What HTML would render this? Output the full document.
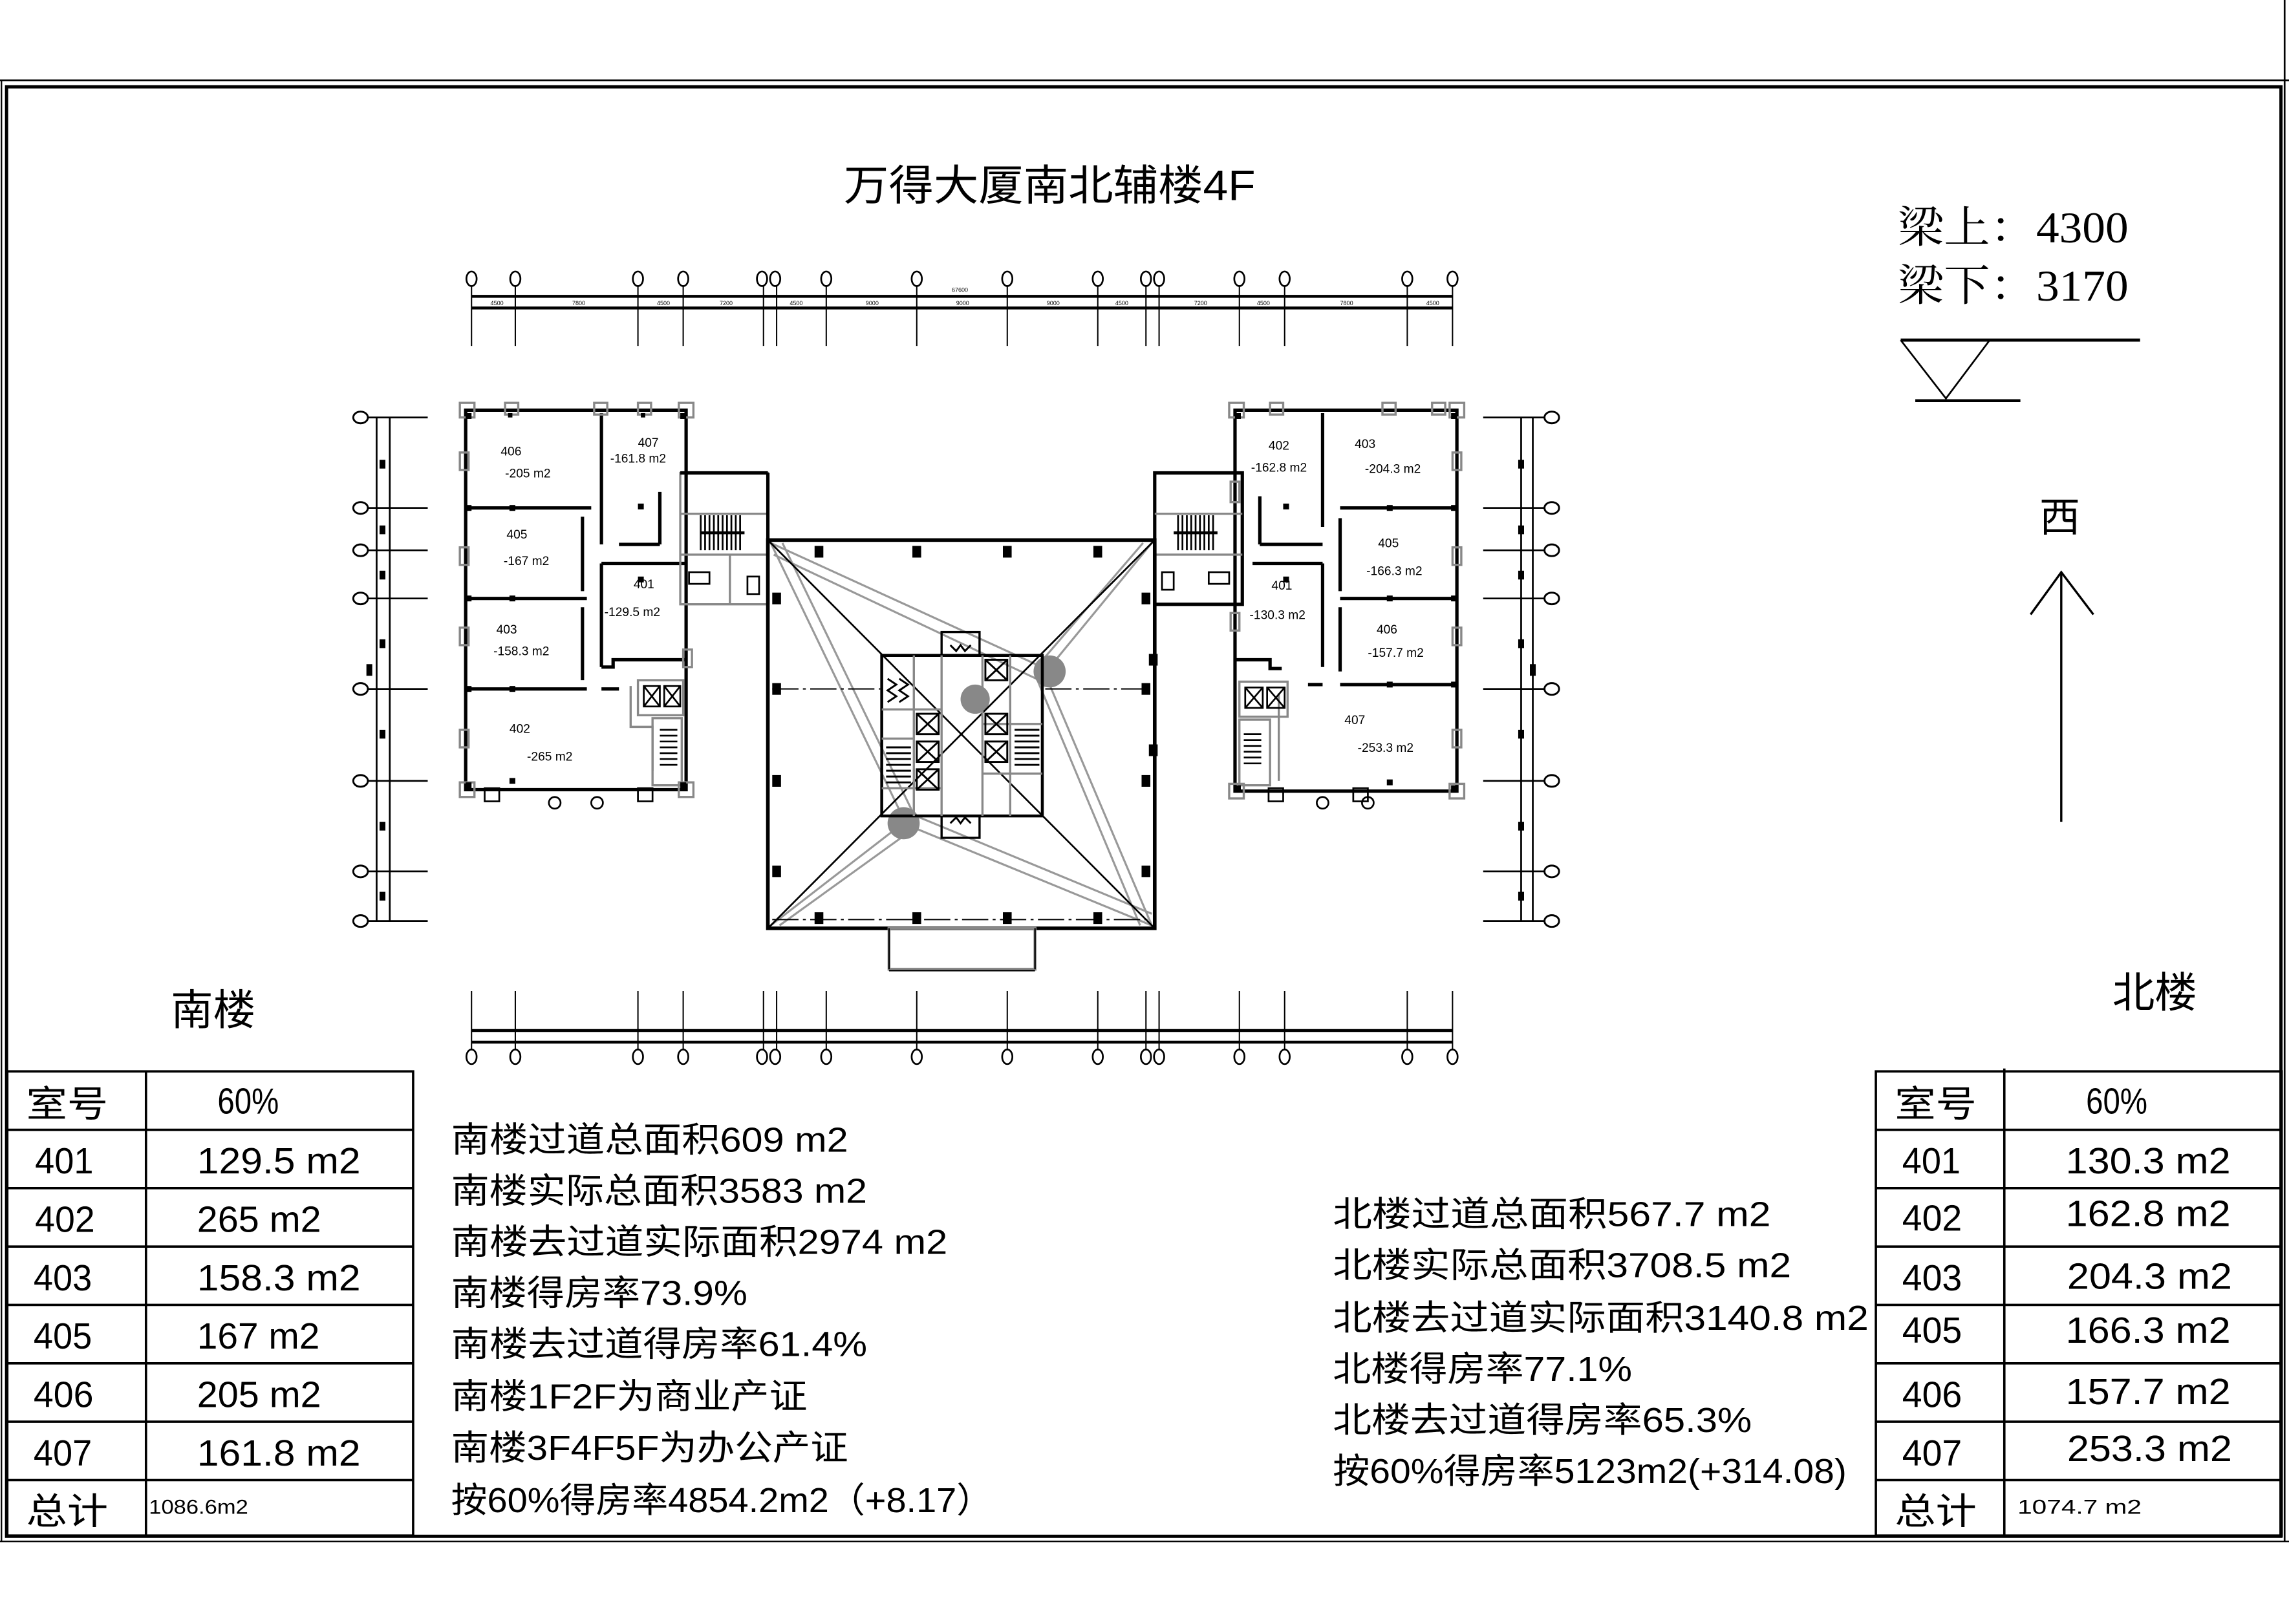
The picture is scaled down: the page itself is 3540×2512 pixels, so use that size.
<!DOCTYPE html>
<html><head><meta charset="utf-8"><style>
html,body{margin:0;padding:0;background:#fff}
svg{display:block}
.t{font-family:"Liberation Sans","Noto Sans CJK SC",sans-serif}
.s{font-family:"Liberation Serif","Noto Serif CJK SC",serif}
</style></head><body>
<svg width="3540" height="2512" viewBox="0 0 1568 1112.6" preserveAspectRatio="none" xmlns="http://www.w3.org/2000/svg">
<rect x="0" y="0" width="1568" height="1112.6" fill="#fff"/>
<!-- frame -->
<g fill="none" stroke="#000">
<line x1="0" y1="55" x2="1568" y2="55" stroke-width="1.2"/>
<line x1="1565" y1="0" x2="1565" y2="1056" stroke-width="1.2"/>
<rect x="4.5" y="59.5" width="1558" height="993" stroke-width="2.2"/>
<line x1="0" y1="1056" x2="1568" y2="1056" stroke-width="1"/>
<line x1="1" y1="55" x2="1" y2="1056" stroke-width="1"/>
</g>
<!-- title -->
<text class="t" x="578" y="137" font-size="29" textLength="282" lengthAdjust="spacingAndGlyphs">万得大厦南北辅楼4F</text>
<text class="s" x="1300" y="166" font-size="30" textLength="158" lengthAdjust="spacingAndGlyphs">梁上：4300</text>
<text class="s" x="1300" y="206" font-size="30" textLength="158" lengthAdjust="spacingAndGlyphs">梁下：3170</text>
<g stroke="#000" fill="none">
<line x1="1302" y1="233" x2="1466" y2="233" stroke-width="2.2"/>
<polyline points="1302,233 1333,273 1363,233" stroke-width="1.2"/>
<line x1="1312" y1="274.5" x2="1384" y2="274.5" stroke-width="2"/>
<line x1="1412" y1="392" x2="1412" y2="563" stroke-width="1.5"/>
<polyline points="1391,421 1412,392 1434,421" stroke-width="1.5"/>
</g>
<text class="t" x="1397" y="364" font-size="28">西</text>
<text class="t" x="117" y="702" font-size="29">南楼</text>
<text class="t" x="1447" y="690" font-size="29">北楼</text>

<!-- top dimensions -->
<g stroke="#000" fill="#fff">
<g stroke-width="0.9">
<line x1="323" y1="196" x2="323" y2="237"/><line x1="353" y1="196" x2="353" y2="237"/><line x1="437" y1="196" x2="437" y2="237"/><line x1="468" y1="196" x2="468" y2="237"/><line x1="523" y1="196" x2="523" y2="237"/><line x1="532" y1="196" x2="532" y2="237"/><line x1="566" y1="196" x2="566" y2="237"/><line x1="628" y1="196" x2="628" y2="237"/><line x1="690" y1="196" x2="690" y2="237"/><line x1="752" y1="196" x2="752" y2="237"/><line x1="785" y1="196" x2="785" y2="237"/><line x1="794" y1="196" x2="794" y2="237"/><line x1="849" y1="196" x2="849" y2="237"/><line x1="880" y1="196" x2="880" y2="237"/><line x1="964" y1="196" x2="964" y2="237"/><line x1="995" y1="196" x2="995" y2="237"/>
</g>
<line x1="323" y1="203" x2="995" y2="203" stroke-width="2"/>
<line x1="323" y1="211" x2="995" y2="211" stroke-width="2"/>
<g stroke-width="1.2">
<ellipse cx="323" cy="191" rx="3.5" ry="5"/><ellipse cx="353" cy="191" rx="3.5" ry="5"/><ellipse cx="437" cy="191" rx="3.5" ry="5"/><ellipse cx="468" cy="191" rx="3.5" ry="5"/><ellipse cx="522" cy="191" rx="3.5" ry="5"/><ellipse cx="531" cy="191" rx="3.5" ry="5"/><ellipse cx="566" cy="191" rx="3.5" ry="5"/><ellipse cx="628" cy="191" rx="3.5" ry="5"/><ellipse cx="690" cy="191" rx="3.5" ry="5"/><ellipse cx="752" cy="191" rx="3.5" ry="5"/><ellipse cx="785" cy="191" rx="3.5" ry="5"/><ellipse cx="794" cy="191" rx="3.5" ry="5"/><ellipse cx="849" cy="191" rx="3.5" ry="5"/><ellipse cx="880" cy="191" rx="3.5" ry="5"/><ellipse cx="964" cy="191" rx="3.5" ry="5"/><ellipse cx="995" cy="191" rx="3.5" ry="5"/>
</g>
</g>
<g fill="#000" font-size="4" class="t">
<text x="336" y="209">4500</text><text x="392" y="209">7800</text><text x="450" y="209">4500</text><text x="493" y="209">7200</text><text x="541" y="209">4500</text><text x="593" y="209">9000</text><text x="655" y="209">9000</text><text x="717" y="209">9000</text><text x="764" y="209">4500</text><text x="818" y="209">7200</text><text x="861" y="209">4500</text><text x="918" y="209">7800</text><text x="977" y="209">4500</text><text x="652" y="200">67600</text>
</g>

<!-- bottom dimensions -->
<g stroke="#000" fill="#fff">
<g stroke-width="0.9">
<line x1="323" y1="679" x2="323" y2="720"/><line x1="353" y1="679" x2="353" y2="720"/><line x1="437" y1="679" x2="437" y2="720"/><line x1="468" y1="679" x2="468" y2="720"/><line x1="523" y1="679" x2="523" y2="720"/><line x1="532" y1="679" x2="532" y2="720"/><line x1="566" y1="679" x2="566" y2="720"/><line x1="628" y1="679" x2="628" y2="720"/><line x1="690" y1="679" x2="690" y2="720"/><line x1="752" y1="679" x2="752" y2="720"/><line x1="785" y1="679" x2="785" y2="720"/><line x1="794" y1="679" x2="794" y2="720"/><line x1="849" y1="679" x2="849" y2="720"/><line x1="880" y1="679" x2="880" y2="720"/><line x1="964" y1="679" x2="964" y2="720"/><line x1="995" y1="679" x2="995" y2="720"/>
</g>
<line x1="323" y1="706" x2="995" y2="706" stroke-width="2"/>
<line x1="323" y1="714" x2="995" y2="714" stroke-width="2"/>
<g stroke-width="1.2">
<ellipse cx="323" cy="724" rx="3.5" ry="5"/><ellipse cx="353" cy="724" rx="3.5" ry="5"/><ellipse cx="437" cy="724" rx="3.5" ry="5"/><ellipse cx="468" cy="724" rx="3.5" ry="5"/><ellipse cx="522" cy="724" rx="3.5" ry="5"/><ellipse cx="531" cy="724" rx="3.5" ry="5"/><ellipse cx="566" cy="724" rx="3.5" ry="5"/><ellipse cx="628" cy="724" rx="3.5" ry="5"/><ellipse cx="690" cy="724" rx="3.5" ry="5"/><ellipse cx="752" cy="724" rx="3.5" ry="5"/><ellipse cx="785" cy="724" rx="3.5" ry="5"/><ellipse cx="794" cy="724" rx="3.5" ry="5"/><ellipse cx="849" cy="724" rx="3.5" ry="5"/><ellipse cx="880" cy="724" rx="3.5" ry="5"/><ellipse cx="964" cy="724" rx="3.5" ry="5"/><ellipse cx="995" cy="724" rx="3.5" ry="5"/>
</g>
</g>

<!-- left grid -->
<g stroke="#000" fill="#fff">
<g stroke-width="1.2">
<line x1="251" y1="286" x2="293" y2="286"/><line x1="251" y1="348" x2="293" y2="348"/><line x1="251" y1="377" x2="293" y2="377"/><line x1="251" y1="410" x2="293" y2="410"/><line x1="251" y1="472" x2="293" y2="472"/><line x1="251" y1="535" x2="293" y2="535"/><line x1="251" y1="597" x2="293" y2="597"/><line x1="251" y1="631" x2="293" y2="631"/>
<line x1="258" y1="286" x2="258" y2="631"/><line x1="267" y1="286" x2="267" y2="631"/>
</g>
<g stroke-width="1.3">
<ellipse cx="247" cy="286" rx="5" ry="4"/><ellipse cx="247" cy="348" rx="5" ry="4"/><ellipse cx="247" cy="377" rx="5" ry="4"/><ellipse cx="247" cy="410" rx="5" ry="4"/><ellipse cx="247" cy="472" rx="5" ry="4"/><ellipse cx="247" cy="535" rx="5" ry="4"/><ellipse cx="247" cy="597" rx="5" ry="4"/><ellipse cx="247" cy="631" rx="5" ry="4"/>
</g>
<g stroke-width="1.2">
<line x1="1016" y1="286" x2="1058" y2="286"/><line x1="1016" y1="348" x2="1058" y2="348"/><line x1="1016" y1="377" x2="1058" y2="377"/><line x1="1016" y1="410" x2="1058" y2="410"/><line x1="1016" y1="472" x2="1058" y2="472"/><line x1="1016" y1="535" x2="1058" y2="535"/><line x1="1016" y1="597" x2="1058" y2="597"/><line x1="1016" y1="631" x2="1058" y2="631"/>
<line x1="1042" y1="286" x2="1042" y2="631"/><line x1="1050" y1="286" x2="1050" y2="631"/>
</g>
<g stroke-width="1.3">
<ellipse cx="1063" cy="286" rx="5" ry="4"/><ellipse cx="1063" cy="348" rx="5" ry="4"/><ellipse cx="1063" cy="377" rx="5" ry="4"/><ellipse cx="1063" cy="410" rx="5" ry="4"/><ellipse cx="1063" cy="472" rx="5" ry="4"/><ellipse cx="1063" cy="535" rx="5" ry="4"/><ellipse cx="1063" cy="597" rx="5" ry="4"/><ellipse cx="1063" cy="631" rx="5" ry="4"/>
</g>
</g>
<g fill="#000">
<rect x="260" y="315" width="4" height="6"/><rect x="260" y="360" width="4" height="6"/><rect x="260" y="391" width="4" height="6"/><rect x="260" y="438" width="4" height="6"/><rect x="260" y="500" width="4" height="6"/><rect x="260" y="563" width="4" height="6"/><rect x="260" y="611" width="4" height="6"/><rect x="251" y="455" width="4" height="8"/>
<rect x="1040" y="315" width="4" height="6"/><rect x="1040" y="360" width="4" height="6"/><rect x="1040" y="391" width="4" height="6"/><rect x="1040" y="438" width="4" height="6"/><rect x="1040" y="500" width="4" height="6"/><rect x="1040" y="563" width="4" height="6"/><rect x="1040" y="611" width="4" height="6"/><rect x="1048" y="455" width="4" height="8"/>
</g>

<!-- SOUTH building -->
<g fill="none" stroke="#000" stroke-width="2.3">
<path d="M319,281 L470,281 L470,541 L319,541 Z"/>
<line x1="412" y1="283" x2="412" y2="373"/>
<line x1="412" y1="386" x2="412" y2="457"/>
<line x1="322" y1="348" x2="405" y2="348"/>
<line x1="322" y1="410" x2="402" y2="410"/>
<line x1="322" y1="472" x2="402" y2="472"/>
<line x1="412" y1="472" x2="424" y2="472"/>
<line x1="399" y1="354" x2="399" y2="405"/>
<line x1="399" y1="416" x2="399" y2="466"/>
<line x1="424" y1="373" x2="452" y2="373"/>
<line x1="452" y1="337" x2="452" y2="373"/>
<line x1="412" y1="386" x2="470" y2="386"/>
<polyline points="412,457 420,457 420,452 470,452"/>
</g>
<g fill="none" stroke="#888" stroke-width="1.5">
<rect x="315" y="276" width="10" height="10"/><rect x="465" y="276" width="10" height="10"/><rect x="315" y="536" width="10" height="10"/><rect x="465" y="536" width="10" height="10"/>
<rect x="346" y="276" width="9" height="8"/><rect x="407" y="276" width="9" height="8"/><rect x="437" y="276" width="9" height="8"/>
<rect x="315" y="310" width="6" height="12"/><rect x="315" y="375" width="6" height="12"/><rect x="315" y="430" width="6" height="12"/><rect x="315" y="500" width="6" height="12"/>
<rect x="468" y="445" width="6" height="12"/>
<polyline points="432,470 432,498 447,498 447,528"/>
<rect x="437" y="466" width="31" height="24"/>
<rect x="447" y="492" width="20" height="46"/>
<rect x="466" y="324" width="60" height="90"/>
<line x1="466" y1="352" x2="526" y2="352"/><line x1="466" y1="380" x2="526" y2="380"/>
<line x1="500" y1="380" x2="500" y2="414"/>
</g>
<g fill="none" stroke="#000" stroke-width="1.2">
<rect x="332" y="540" width="10" height="9"/><rect x="437" y="540" width="10" height="9"/>
<circle cx="380" cy="550" r="4"/><circle cx="409" cy="550" r="4"/>
<rect x="441" y="470" width="11" height="14"/><line x1="441" y1="470" x2="452" y2="484"/><line x1="452" y1="470" x2="441" y2="484"/>
<rect x="455" y="470" width="11" height="14"/><line x1="455" y1="470" x2="466" y2="484"/><line x1="466" y1="470" x2="455" y2="484"/>
<path d="M452,500 h12 M452,504 h12 M452,508 h12 M452,512 h12 M452,516 h12 M452,520 h12 M452,524 h12"/>
<path d="M480,353 v24 M483,353 v24 M486,353 v24 M489,353 v24 M492,353 v24 M495,353 v24 M498,353 v24 M501,353 v24 M504,353 v24 M507,353 v24"/>
<line x1="480" y1="365" x2="510" y2="365" stroke-width="2"/>
<rect x="512" y="395" width="8" height="12"/><rect x="472" y="392" width="14" height="8"/>
<path d="M526,324 v90" stroke-width="2.3"/>
<path d="M466,324 h60" stroke-width="2.3"/>
</g>
<g fill="#000">
<rect x="319" y="283" width="4" height="4"/><rect x="466" y="283" width="4" height="4"/><rect x="319" y="536" width="4" height="4"/><rect x="466" y="536" width="4" height="4"/>
<rect x="348" y="283" width="3" height="3"/><rect x="439" y="283" width="3" height="3"/><rect x="349" y="346" width="4" height="4"/><rect x="349" y="408" width="4" height="4"/><rect x="349" y="470" width="4" height="4"/><rect x="349" y="533" width="4" height="4"/><rect x="437" y="345" width="4" height="4"/><rect x="437" y="395" width="4" height="4"/>
<rect x="319" y="346" width="4" height="4"/><rect x="319" y="408" width="4" height="4"/><rect x="319" y="470" width="4" height="4"/>
</g>
<g class="t" font-size="8.5" fill="#000">
<text x="343" y="312">406</text><text x="346" y="327">-205 m2</text>
<text x="437" y="306">407</text><text x="418" y="317">-161.8 m2</text>
<text x="347" y="369">405</text><text x="345" y="387">-167 m2</text>
<text x="434" y="403">401</text><text x="414" y="422">-129.5 m2</text>
<text x="340" y="434">403</text><text x="338" y="449">-158.3 m2</text>
<text x="349" y="502">402</text><text x="361" y="521">-265 m2</text>
</g>

<!-- NORTH building -->
<g fill="none" stroke="#000" stroke-width="2.3">
<path d="M846,281 L998,281 L998,542 L846,542 Z"/>
<line x1="906" y1="283" x2="906" y2="361"/>
<line x1="906" y1="386" x2="906" y2="457"/>
<line x1="918" y1="355" x2="918" y2="405"/>
<line x1="918" y1="416" x2="918" y2="460"/>
<line x1="918" y1="348" x2="996" y2="348"/>
<line x1="918" y1="410" x2="996" y2="410"/>
<line x1="918" y1="469" x2="996" y2="469"/>
<line x1="896" y1="469" x2="906" y2="469"/>
<line x1="863" y1="373" x2="906" y2="373"/>
<line x1="863" y1="340" x2="863" y2="373"/>
<line x1="858" y1="386" x2="906" y2="386"/>
<polyline points="846,452 870,452 870,458 878,458"/>
<path d="M791,324 h60 v90 h-60 z"/>
</g>
<g fill="none" stroke="#888" stroke-width="1.5">
<rect x="842" y="276" width="10" height="10"/><rect x="993" y="276" width="10" height="10"/><rect x="842" y="537" width="10" height="10"/><rect x="993" y="537" width="10" height="10"/>
<rect x="870" y="276" width="9" height="8"/><rect x="947" y="276" width="9" height="8"/><rect x="981" y="276" width="9" height="8"/>
<rect x="995" y="310" width="6" height="12"/><rect x="995" y="375" width="6" height="12"/><rect x="995" y="430" width="6" height="12"/><rect x="995" y="500" width="6" height="12"/>
<rect x="843" y="330" width="6" height="14"/><rect x="843" y="420" width="6" height="12"/>
<rect x="849" y="467" width="33" height="24"/>
<rect x="849" y="493" width="21" height="45"/>
<line x1="791" y1="352" x2="851" y2="352"/><line x1="791" y1="380" x2="851" y2="380"/>
<line x1="876" y1="475" x2="876" y2="535"/>
</g>
<g fill="none" stroke="#000" stroke-width="1.2">
<rect x="869" y="540" width="10" height="9"/><rect x="927" y="540" width="10" height="9"/>
<circle cx="906" cy="550" r="4"/><circle cx="937" cy="550" r="4"/>
<rect x="853" y="471" width="12" height="14"/><line x1="853" y1="471" x2="865" y2="485"/><line x1="865" y1="471" x2="853" y2="485"/>
<rect x="868" y="471" width="12" height="14"/><line x1="868" y1="471" x2="880" y2="485"/><line x1="880" y1="471" x2="868" y2="485"/>
<path d="M852,503 h12 M852,507 h12 M852,511 h12 M852,515 h12 M852,519 h12 M852,523 h12"/>
<path d="M807,353 v24 M810,353 v24 M813,353 v24 M816,353 v24 M819,353 v24 M822,353 v24 M825,353 v24 M828,353 v24 M831,353 v24"/>
<line x1="804" y1="365" x2="834" y2="365" stroke-width="2"/>
<rect x="796" y="392" width="8" height="12"/><rect x="828" y="392" width="14" height="8"/>
</g>
<g fill="#000">
<rect x="846" y="283" width="4" height="4"/><rect x="994" y="283" width="4" height="4"/><rect x="846" y="538" width="4" height="4"/><rect x="994" y="538" width="4" height="4"/>
<rect x="879" y="345" width="4" height="4"/><rect x="879" y="395" width="4" height="4"/><rect x="950" y="346" width="4" height="4"/><rect x="950" y="408" width="4" height="4"/><rect x="950" y="467" width="4" height="4"/><rect x="950" y="534" width="4" height="4"/><rect x="994" y="346" width="4" height="4"/><rect x="994" y="408" width="4" height="4"/><rect x="994" y="467" width="4" height="4"/>
<rect x="787" y="448" width="6" height="8"/><rect x="787" y="510" width="6" height="8"/>
</g>
<g class="t" font-size="8.5" fill="#000">
<text x="869" y="308">402</text><text x="857" y="323">-162.8 m2</text>
<text x="928" y="307">403</text><text x="935" y="324">-204.3 m2</text>
<text x="944" y="375">405</text><text x="936" y="394">-166.3 m2</text>
<text x="871" y="404">401</text><text x="856" y="424">-130.3 m2</text>
<text x="943" y="434">406</text><text x="937" y="450">-157.7 m2</text>
<text x="921" y="496">407</text><text x="930" y="515">-253.3 m2</text>
</g>

<!-- CENTRAL building -->
<g fill="none" stroke="#999" stroke-width="1.4">
<path d="M528,372 L716,458 M530,380 L712,466"/>
<path d="M528,372 L619,561 M536,372 L626,558"/>
<path d="M789,634 L716,462 M781,634 L709,462"/>
<path d="M789,634 L621,565 M789,626 L625,558"/>
<path d="M789,372 L720,456 M783,372 L716,450"/>
<path d="M528,634 L616,566 M534,634 L620,572"/>
</g>
<g fill="#888">
<circle cx="719" cy="460" r="11"/><circle cx="668" cy="479" r="10"/><circle cx="619" cy="564" r="11"/>
</g>
<g fill="none" stroke="#000">
<rect x="526" y="370" width="265" height="266" stroke-width="2.5"/>
<line x1="526" y1="370" x2="791" y2="636" stroke-width="1.2"/>
<line x1="791" y1="370" x2="526" y2="636" stroke-width="1.2"/>
<line x1="529" y1="472" x2="603" y2="472" stroke-width="0.9" stroke-dasharray="18,3,2,3"/>
<line x1="716" y1="472" x2="788" y2="472" stroke-width="0.9" stroke-dasharray="18,3,2,3"/>
<line x1="529" y1="630" x2="788" y2="630" stroke-width="0.9" stroke-dasharray="18,3,2,3"/>
<rect x="604" y="449" width="110" height="110" stroke-width="2"/>
<rect x="645" y="433" width="26" height="16" stroke-width="1.5"/>
<rect x="645" y="559" width="26" height="15" stroke-width="1.5"/>
<rect x="609" y="636" width="100" height="28" stroke="#888" stroke-width="2"/>
<line x1="609" y1="636" x2="609" y2="664" stroke-width="1"/><line x1="709" y1="636" x2="709" y2="664" stroke-width="1"/>
<line x1="609" y1="665" x2="709" y2="665" stroke-width="1"/>
</g>
<g fill="none" stroke="#888" stroke-width="1.5">
<line x1="626" y1="449" x2="626" y2="559"/><line x1="645" y1="449" x2="645" y2="559"/><line x1="673" y1="449" x2="673" y2="559"/><line x1="692" y1="449" x2="692" y2="559"/>
<line x1="604" y1="486" x2="645" y2="486"/><line x1="604" y1="506" x2="626" y2="506"/><line x1="604" y1="540" x2="645" y2="540"/>
<line x1="673" y1="496" x2="714" y2="496"/><line x1="673" y1="530" x2="714" y2="530"/>
</g>
<g fill="none" stroke="#000" stroke-width="1.3">
<rect x="628" y="489" width="15" height="14"/><line x1="628" y1="489" x2="643" y2="503"/><line x1="643" y1="489" x2="628" y2="503"/>
<rect x="628" y="508" width="15" height="14"/><line x1="628" y1="508" x2="643" y2="522"/><line x1="643" y1="508" x2="628" y2="522"/>
<rect x="628" y="527" width="15" height="14"/><line x1="628" y1="527" x2="643" y2="541"/><line x1="643" y1="527" x2="628" y2="541"/>
<rect x="675" y="489" width="15" height="14"/><line x1="675" y1="489" x2="690" y2="503"/><line x1="690" y1="489" x2="675" y2="503"/>
<rect x="675" y="508" width="15" height="14"/><line x1="675" y1="508" x2="690" y2="522"/><line x1="690" y1="508" x2="675" y2="522"/>
<rect x="675" y="452" width="15" height="14"/><line x1="675" y1="452" x2="690" y2="466"/><line x1="690" y1="452" x2="675" y2="466"/>
<path d="M607,512 h17 M607,516 h17 M607,520 h17 M607,524 h17 M607,528 h17 M607,532 h17 M607,536 h17"/>
<path d="M695,500 h17 M695,504 h17 M695,508 h17 M695,512 h17 M695,516 h17 M695,520 h17 M695,524 h17"/>
<path d="M608,465 l6,4 l-6,4 l6,4 l-6,4 M616,465 l6,4 l-6,4 l6,4 l-6,4"/>
<path d="M651,442 l4,4 l3,-4 l3,4 l4,-4 M651,564 l4,-4 l3,4 l3,-4 l4,4"/>
</g>
<g fill="#000">
<rect x="558" y="374" width="6" height="8"/><rect x="625" y="374" width="6" height="8"/><rect x="687" y="374" width="6" height="8"/><rect x="749" y="374" width="6" height="8"/>
<rect x="558" y="625" width="6" height="8"/><rect x="625" y="625" width="6" height="8"/><rect x="687" y="625" width="6" height="8"/><rect x="749" y="625" width="6" height="8"/>
<rect x="529" y="406" width="6" height="8"/><rect x="529" y="468" width="6" height="8"/><rect x="529" y="531" width="6" height="8"/><rect x="529" y="593" width="6" height="8"/>
<rect x="782" y="406" width="6" height="8"/><rect x="782" y="468" width="6" height="8"/><rect x="782" y="531" width="6" height="8"/><rect x="782" y="593" width="6" height="8"/>
</g>

<!-- LEFT TABLE -->
<g fill="none" stroke="#000" stroke-width="1.6">
<rect x="5" y="734" width="278" height="318"/>
<line x1="100" y1="734" x2="100" y2="1052"/>
<line x1="5" y1="774" x2="283" y2="774"/><line x1="5" y1="814" x2="283" y2="814"/><line x1="5" y1="854" x2="283" y2="854"/><line x1="5" y1="894" x2="283" y2="894"/><line x1="5" y1="934" x2="283" y2="934"/><line x1="5" y1="974" x2="283" y2="974"/><line x1="5" y1="1014" x2="283" y2="1014"/>
</g>
<g class="t" fill="#000" font-size="25">
<text x="18" y="765" textLength="56" lengthAdjust="spacingAndGlyphs">室号</text>
<text x="149" y="763" textLength="42" lengthAdjust="spacingAndGlyphs">60%</text>
<text x="24" y="804" textLength="40" lengthAdjust="spacingAndGlyphs">401</text>
<text x="135" y="804" textLength="112" lengthAdjust="spacingAndGlyphs">129.5 m2</text>
<text x="24" y="844" textLength="41" lengthAdjust="spacingAndGlyphs">402</text>
<text x="135" y="844" textLength="85" lengthAdjust="spacingAndGlyphs">265 m2</text>
<text x="23" y="884" textLength="40" lengthAdjust="spacingAndGlyphs">403</text>
<text x="135" y="884" textLength="112" lengthAdjust="spacingAndGlyphs">158.3 m2</text>
<text x="23" y="924" textLength="40" lengthAdjust="spacingAndGlyphs">405</text>
<text x="135" y="924" textLength="84" lengthAdjust="spacingAndGlyphs">167 m2</text>
<text x="23" y="964" textLength="41" lengthAdjust="spacingAndGlyphs">406</text>
<text x="135" y="964" textLength="85" lengthAdjust="spacingAndGlyphs">205 m2</text>
<text x="23" y="1004" textLength="40" lengthAdjust="spacingAndGlyphs">407</text>
<text x="135" y="1004" textLength="112" lengthAdjust="spacingAndGlyphs">161.8 m2</text>
<text x="18" y="1044" textLength="56" lengthAdjust="spacingAndGlyphs">总计</text>
<text x="102" y="1037" font-size="14" textLength="68" lengthAdjust="spacingAndGlyphs">1086.6m2</text>
</g>

<!-- RIGHT TABLE -->
<g fill="none" stroke="#000" stroke-width="1.6">
<rect x="1285" y="734" width="278" height="318"/>
<line x1="1373" y1="732" x2="1373" y2="1052"/>
<line x1="1285" y1="774" x2="1563" y2="774"/><line x1="1285" y1="814" x2="1563" y2="814"/><line x1="1285" y1="854" x2="1563" y2="854"/><line x1="1285" y1="894" x2="1563" y2="894"/><line x1="1285" y1="934" x2="1563" y2="934"/><line x1="1285" y1="974" x2="1563" y2="974"/><line x1="1285" y1="1014" x2="1563" y2="1014"/>
</g>
<g class="t" fill="#000" font-size="25">
<text x="1298" y="765" textLength="56" lengthAdjust="spacingAndGlyphs">室号</text>
<text x="1429" y="763" textLength="42" lengthAdjust="spacingAndGlyphs">60%</text>
<text x="1303" y="804" textLength="40" lengthAdjust="spacingAndGlyphs">401</text>
<text x="1415" y="804" textLength="113" lengthAdjust="spacingAndGlyphs">130.3 m2</text>
<text x="1303" y="843" textLength="41" lengthAdjust="spacingAndGlyphs">402</text>
<text x="1415" y="840" textLength="113" lengthAdjust="spacingAndGlyphs">162.8 m2</text>
<text x="1303" y="884" textLength="41" lengthAdjust="spacingAndGlyphs">403</text>
<text x="1416" y="883" textLength="113" lengthAdjust="spacingAndGlyphs">204.3 m2</text>
<text x="1303" y="920" textLength="41" lengthAdjust="spacingAndGlyphs">405</text>
<text x="1415" y="920" textLength="113" lengthAdjust="spacingAndGlyphs">166.3 m2</text>
<text x="1303" y="964" textLength="41" lengthAdjust="spacingAndGlyphs">406</text>
<text x="1415" y="962" textLength="113" lengthAdjust="spacingAndGlyphs">157.7 m2</text>
<text x="1303" y="1004" textLength="41" lengthAdjust="spacingAndGlyphs">407</text>
<text x="1416" y="1001" textLength="113" lengthAdjust="spacingAndGlyphs">253.3 m2</text>
<text x="1298" y="1044" textLength="56" lengthAdjust="spacingAndGlyphs">总计</text>
<text x="1382" y="1037" font-size="14" textLength="85" lengthAdjust="spacingAndGlyphs">1074.7   m2</text>
</g>

<!-- south text block -->
<g class="t" fill="#000" font-size="24">
<text x="309" y="789" textLength="272" lengthAdjust="spacingAndGlyphs">南楼过道总面积609 m2</text>
<text x="309" y="824" textLength="285" lengthAdjust="spacingAndGlyphs">南楼实际总面积3583 m2</text>
<text x="309" y="859" textLength="340" lengthAdjust="spacingAndGlyphs">南楼去过道实际面积2974 m2</text>
<text x="309" y="894" textLength="203" lengthAdjust="spacingAndGlyphs">南楼得房率73.9%</text>
<text x="309" y="929" textLength="285" lengthAdjust="spacingAndGlyphs">南楼去过道得房率61.4%</text>
<text x="309" y="965" textLength="244" lengthAdjust="spacingAndGlyphs">南楼1F2F为商业产证</text>
<text x="309" y="1000" textLength="272" lengthAdjust="spacingAndGlyphs">南楼3F4F5F为办公产证</text>
<text x="309" y="1036" textLength="371" lengthAdjust="spacingAndGlyphs">按60%得房率4854.2m2（+8.17）</text>
</g>
<!-- north text block -->
<g class="t" fill="#000" font-size="24">
<text x="913" y="840" textLength="300" lengthAdjust="spacingAndGlyphs">北楼过道总面积567.7 m2</text>
<text x="913" y="875" textLength="314" lengthAdjust="spacingAndGlyphs">北楼实际总面积3708.5 m2</text>
<text x="913" y="911" textLength="367" lengthAdjust="spacingAndGlyphs">北楼去过道实际面积3140.8 m2</text>
<text x="913" y="946" textLength="205" lengthAdjust="spacingAndGlyphs">北楼得房率77.1%</text>
<text x="913" y="981" textLength="287" lengthAdjust="spacingAndGlyphs">北楼去过道得房率65.3%</text>
<text x="913" y="1016" textLength="352" lengthAdjust="spacingAndGlyphs">按60%得房率5123m2(+314.08)</text>
</g>
</svg>
</body></html>
